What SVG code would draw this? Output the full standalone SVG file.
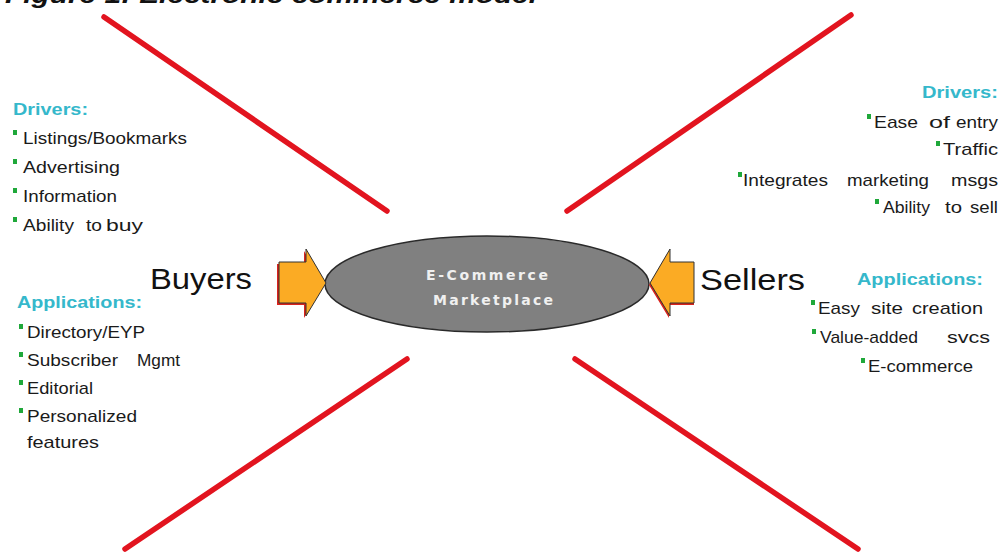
<svg xmlns="http://www.w3.org/2000/svg" width="1002" height="553" viewBox="0 0 1002 553">
<style>
.ln{stroke:#e2141f;stroke-width:5.5;stroke-linecap:round;fill:none}
.t{font-family:"Liberation Sans",Arial,sans-serif;font-size:17px;fill:#1a1a1a}
.h{font-family:"Liberation Sans",Arial,sans-serif;font-size:17px;font-weight:bold;fill:#35b8cb}
.big{font-family:"Liberation Sans",Arial,sans-serif;font-size:30px;fill:#111}
.c{font-family:"DejaVu Sans",Verdana,sans-serif;font-size:14px;font-weight:bold;fill:#f0f0f0}
.b{fill:#1fa83a}
.arr{fill:#fbab24;stroke:#333;stroke-width:1}
.sh{fill:#d9231c}
</style>
<rect width="1002" height="553" fill="#fff"/>
<text x="5" y="3" font-family="Liberation Sans,Arial,sans-serif" font-size="24" font-weight="bold" font-style="italic" fill="#111" textLength="532" lengthAdjust="spacingAndGlyphs">Figure 1: Electronic commerce model</text>
<g id="connectors">
<line class="ln" x1="104" y1="17" x2="387" y2="211"/>
<line class="ln" x1="851" y1="15" x2="567" y2="211"/>
<line class="ln" x1="407" y1="359" x2="125" y2="549"/>
<line class="ln" x1="575" y1="359" x2="858" y2="549"/>
</g>
<g id="marketplace">
<ellipse cx="487" cy="284" rx="162" ry="48" fill="#808080" stroke="#2a2a2a" stroke-width="1.5"/>
<text class="c" x="426" y="280" textLength="122" lengthAdjust="spacing">E-Commerce</text>
<text class="c" x="433" y="305" textLength="120" lengthAdjust="spacing">Marketplace</text>
</g>
<g id="buyer-arrow">
<polygon class="sh" points="277,264 304,264 304,251 324,285 304,318 304,305 277,305"/>
<polygon class="arr" points="279,262 306,262 306,249 326,283 306,316 306,303 279,303"/>
</g>
<g id="seller-arrow">
<polygon class="sh" points="694,264 669,264 669,251 649,285 669,318 669,305 694,305"/>
<polygon class="arr" points="694,262 670,262 670,249 650,283 670,316 670,303 694,303"/>
</g>
<g id="buyers">
<text class="big" x="150" y="289" textLength="102" lengthAdjust="spacingAndGlyphs">Buyers</text>
</g>
<g id="sellers">
<text class="big" x="700" y="290" textLength="105" lengthAdjust="spacingAndGlyphs">Sellers</text>
</g>
<g id="buyer-drivers">
<text class="h" x="13" y="115" textLength="75" lengthAdjust="spacingAndGlyphs">Drivers:</text>
<rect class="b" x="13" y="130" width="4" height="5"/>
<text class="t" x="23" y="144" textLength="164" lengthAdjust="spacingAndGlyphs">Listings/Bookmarks</text>
<rect class="b" x="13" y="159" width="4" height="5"/>
<text class="t" x="23" y="173" textLength="97" lengthAdjust="spacingAndGlyphs">Advertising</text>
<rect class="b" x="13" y="188" width="4" height="5"/>
<text class="t" x="23" y="202" textLength="94" lengthAdjust="spacingAndGlyphs">Information</text>
<rect class="b" x="13" y="217" width="4" height="5"/>
<text class="t" y="231"><tspan x="23" textLength="51" lengthAdjust="spacingAndGlyphs">Ability</tspan><tspan x="86" textLength="16" lengthAdjust="spacingAndGlyphs">to</tspan><tspan x="106" textLength="37" lengthAdjust="spacingAndGlyphs">buy</tspan></text>
</g>
<g id="buyer-applications">
<text class="h" x="17" y="308" textLength="125" lengthAdjust="spacingAndGlyphs">Applications:</text>
<rect class="b" x="19" y="324" width="4" height="5"/>
<text class="t" x="27" y="338" textLength="118" lengthAdjust="spacingAndGlyphs">Directory/EYP</text>
<rect class="b" x="19" y="352" width="4" height="5"/>
<text class="t" y="366"><tspan x="27" textLength="91" lengthAdjust="spacingAndGlyphs">Subscriber</tspan><tspan x="137" textLength="43" lengthAdjust="spacingAndGlyphs">Mgmt</tspan></text>
<rect class="b" x="19" y="380" width="4" height="5"/>
<text class="t" x="27" y="394" textLength="66" lengthAdjust="spacingAndGlyphs">Editorial</text>
<rect class="b" x="19" y="408" width="4" height="5"/>
<text class="t" x="27" y="422" textLength="110" lengthAdjust="spacingAndGlyphs">Personalized</text>
<text class="t" x="27" y="448" textLength="72" lengthAdjust="spacingAndGlyphs">features</text>
</g>
<g id="seller-drivers">
<text class="h" x="922" y="98" textLength="76" lengthAdjust="spacingAndGlyphs">Drivers:</text>
<rect class="b" x="867" y="114" width="4" height="5"/>
<text class="t" y="128"><tspan x="874" textLength="44" lengthAdjust="spacingAndGlyphs">Ease</tspan><tspan x="929" textLength="21" lengthAdjust="spacingAndGlyphs">of</tspan><tspan x="956" textLength="42" lengthAdjust="spacingAndGlyphs">entry</tspan></text>
<rect class="b" x="936" y="141" width="4" height="5"/>
<text class="t" x="943" y="155" textLength="55" lengthAdjust="spacingAndGlyphs">Traffic</text>
<rect class="b" x="738" y="172" width="4" height="5"/>
<text class="t" y="186"><tspan x="743" textLength="85" lengthAdjust="spacingAndGlyphs">Integrates</tspan><tspan x="847" textLength="82" lengthAdjust="spacingAndGlyphs">marketing</tspan><tspan x="951" textLength="47" lengthAdjust="spacingAndGlyphs">msgs</tspan></text>
<rect class="b" x="875" y="199" width="4" height="5"/>
<text class="t" y="213"><tspan x="883" textLength="47" lengthAdjust="spacingAndGlyphs">Ability</tspan><tspan x="945" textLength="17" lengthAdjust="spacingAndGlyphs">to</tspan><tspan x="970" textLength="28" lengthAdjust="spacingAndGlyphs">sell</tspan></text>
</g>
<g id="seller-applications">
<text class="h" x="857" y="285" textLength="126" lengthAdjust="spacingAndGlyphs">Applications:</text>
<rect class="b" x="811" y="300" width="4" height="5"/>
<text class="t" y="314"><tspan x="818" textLength="42" lengthAdjust="spacingAndGlyphs">Easy</tspan><tspan x="871" textLength="32" lengthAdjust="spacingAndGlyphs">site</tspan><tspan x="912" textLength="71" lengthAdjust="spacingAndGlyphs">creation</tspan></text>
<rect class="b" x="812" y="329" width="4" height="5"/>
<text class="t" y="343"><tspan x="820" textLength="98" lengthAdjust="spacingAndGlyphs">Value-added</tspan><tspan x="947" textLength="43" lengthAdjust="spacingAndGlyphs">svcs</tspan></text>
<rect class="b" x="861" y="358" width="4" height="5"/>
<text class="t" x="868" y="372" textLength="105" lengthAdjust="spacingAndGlyphs">E-commerce</text>
</g>
</svg>
